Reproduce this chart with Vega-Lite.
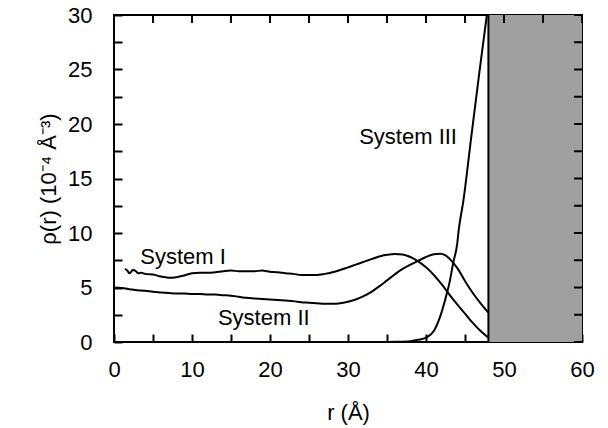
{
  "$schema": "https://vega.github.io/schema/vega-lite/v6.json",
  "width": 468,
  "height": 327,
  "autosize": "none",
  "padding": {"left": 114, "top": 15, "right": 26, "bottom": 86},
  "background": "white",
  "config": {
    "font": "Liberation Sans",
    "view": {"stroke": "black", "strokeWidth": 2},
    "axis": {
      "grid": false,
      "domain": false,
      "zindex": 1,
      "offset": -8,
      "labelFlush": false,
      "tickColor": "black",
      "tickWidth": 2,
      "tickSize": 8,
      "labelColor": "black",
      "labelFontSize": 22,
      "labelFont": "Liberation Sans",
      "titleFont": "Liberation Sans",
      "titleFontSize": 22,
      "titleFontWeight": "normal",
      "titleColor": "black"
    }
  },
  "datasets": {
    "curves": [
      {"series": "I", "r": 1.4, "v": 6.7}, {"series": "I", "r": 1.7, "v": 6.55}, {"series": "I", "r": 2.0, "v": 6.3}, {"series": "I", "r": 2.4, "v": 6.6}, {"series": "I", "r": 2.8, "v": 6.5}, {"series": "I", "r": 3.1, "v": 6.3}, {"series": "I", "r": 3.5, "v": 6.35}, {"series": "I", "r": 4, "v": 6.25}, {"series": "I", "r": 5, "v": 6.2}, {"series": "I", "r": 6, "v": 6.0}, {"series": "I", "r": 7, "v": 5.9}, {"series": "I", "r": 8, "v": 5.95}, {"series": "I", "r": 9, "v": 6.1}, {"series": "I", "r": 10, "v": 6.3}, {"series": "I", "r": 11, "v": 6.35}, {"series": "I", "r": 12, "v": 6.35}, {"series": "I", "r": 13, "v": 6.4}, {"series": "I", "r": 14, "v": 6.5}, {"series": "I", "r": 15, "v": 6.55}, {"series": "I", "r": 16, "v": 6.5}, {"series": "I", "r": 17, "v": 6.5}, {"series": "I", "r": 18, "v": 6.5}, {"series": "I", "r": 19, "v": 6.55}, {"series": "I", "r": 20, "v": 6.45}, {"series": "I", "r": 21, "v": 6.4}, {"series": "I", "r": 22, "v": 6.3}, {"series": "I", "r": 23, "v": 6.25}, {"series": "I", "r": 24, "v": 6.15}, {"series": "I", "r": 25, "v": 6.15}, {"series": "I", "r": 26, "v": 6.15}, {"series": "I", "r": 27, "v": 6.25}, {"series": "I", "r": 28, "v": 6.4}, {"series": "I", "r": 29, "v": 6.6}, {"series": "I", "r": 30, "v": 6.85}, {"series": "I", "r": 31, "v": 7.1}, {"series": "I", "r": 32, "v": 7.35}, {"series": "I", "r": 33, "v": 7.6}, {"series": "I", "r": 34, "v": 7.85}, {"series": "I", "r": 35, "v": 8.0}, {"series": "I", "r": 36, "v": 8.08}, {"series": "I", "r": 37, "v": 8.02}, {"series": "I", "r": 38, "v": 7.8}, {"series": "I", "r": 39, "v": 7.4}, {"series": "I", "r": 40, "v": 6.85}, {"series": "I", "r": 41, "v": 6.15}, {"series": "I", "r": 42, "v": 5.3}, {"series": "I", "r": 43, "v": 4.35}, {"series": "I", "r": 44, "v": 3.45}, {"series": "I", "r": 45, "v": 2.6}, {"series": "I", "r": 46, "v": 1.75}, {"series": "I", "r": 47, "v": 1.0}, {"series": "I", "r": 48, "v": 0.4},
      {"series": "II", "r": 0, "v": 5.0}, {"series": "II", "r": 1, "v": 4.95}, {"series": "II", "r": 2, "v": 4.85}, {"series": "II", "r": 3, "v": 4.75}, {"series": "II", "r": 4, "v": 4.7}, {"series": "II", "r": 5, "v": 4.6}, {"series": "II", "r": 6, "v": 4.55}, {"series": "II", "r": 7, "v": 4.5}, {"series": "II", "r": 8, "v": 4.45}, {"series": "II", "r": 9, "v": 4.45}, {"series": "II", "r": 10, "v": 4.4}, {"series": "II", "r": 11, "v": 4.4}, {"series": "II", "r": 12, "v": 4.35}, {"series": "II", "r": 13, "v": 4.35}, {"series": "II", "r": 14, "v": 4.3}, {"series": "II", "r": 15, "v": 4.25}, {"series": "II", "r": 16, "v": 4.15}, {"series": "II", "r": 17, "v": 4.05}, {"series": "II", "r": 18, "v": 4.0}, {"series": "II", "r": 19, "v": 3.95}, {"series": "II", "r": 20, "v": 3.9}, {"series": "II", "r": 21, "v": 3.85}, {"series": "II", "r": 22, "v": 3.8}, {"series": "II", "r": 23, "v": 3.75}, {"series": "II", "r": 24, "v": 3.65}, {"series": "II", "r": 25, "v": 3.6}, {"series": "II", "r": 26, "v": 3.55}, {"series": "II", "r": 27, "v": 3.5}, {"series": "II", "r": 28, "v": 3.5}, {"series": "II", "r": 29, "v": 3.55}, {"series": "II", "r": 30, "v": 3.7}, {"series": "II", "r": 31, "v": 3.9}, {"series": "II", "r": 32, "v": 4.2}, {"series": "II", "r": 33, "v": 4.6}, {"series": "II", "r": 34, "v": 5.1}, {"series": "II", "r": 35, "v": 5.65}, {"series": "II", "r": 36, "v": 6.2}, {"series": "II", "r": 37, "v": 6.7}, {"series": "II", "r": 38, "v": 7.1}, {"series": "II", "r": 39, "v": 7.45}, {"series": "II", "r": 40, "v": 7.8}, {"series": "II", "r": 41, "v": 8.05}, {"series": "II", "r": 41.8, "v": 8.1}, {"series": "II", "r": 42.5, "v": 7.95}, {"series": "II", "r": 43, "v": 7.65}, {"series": "II", "r": 44, "v": 6.8}, {"series": "II", "r": 45, "v": 5.6}, {"series": "II", "r": 46, "v": 4.5}, {"series": "II", "r": 47, "v": 3.55}, {"series": "II", "r": 48, "v": 2.7},
      {"series": "III", "r": 34, "v": 0}, {"series": "III", "r": 36, "v": 0.02}, {"series": "III", "r": 38, "v": 0.08}, {"series": "III", "r": 39, "v": 0.2}, {"series": "III", "r": 40, "v": 0.4}, {"series": "III", "r": 41, "v": 1.0}, {"series": "III", "r": 41.8, "v": 2.3}, {"series": "III", "r": 42.5, "v": 4.0}, {"series": "III", "r": 43, "v": 5.4}, {"series": "III", "r": 43.5, "v": 7.3}, {"series": "III", "r": 44, "v": 9.0}, {"series": "III", "r": 44.2, "v": 10.3}, {"series": "III", "r": 44.8, "v": 13.0}, {"series": "III", "r": 45.8, "v": 18.8}, {"series": "III", "r": 46.8, "v": 24.5}, {"series": "III", "r": 47.8, "v": 30}
    ],
    "labels": [
      {"text": "System I", "r": 8.85, "v": 7.8},
      {"text": "System II", "r": 19.2, "v": 2.2},
      {"text": "System III", "r": 37.7, "v": 18.8}
    ],
    "region": [{"r": 48, "r2": 60, "v": 0, "v2": 30}],
    "xticks": [{"r": 0, "v": 30}, {"r": 5, "v": 30}, {"r": 10, "v": 30}, {"r": 15, "v": 30}, {"r": 20, "v": 30}, {"r": 25, "v": 30}, {"r": 30, "v": 30}, {"r": 35, "v": 30}, {"r": 40, "v": 30}, {"r": 45, "v": 30}, {"r": 50, "v": 30}, {"r": 55, "v": 30}, {"r": 60, "v": 30}],
    "yticks": [{"r": 60, "v": 0}, {"r": 60, "v": 2.5}, {"r": 60, "v": 5}, {"r": 60, "v": 7.5}, {"r": 60, "v": 10}, {"r": 60, "v": 12.5}, {"r": 60, "v": 15}, {"r": 60, "v": 17.5}, {"r": 60, "v": 20}, {"r": 60, "v": 22.5}, {"r": 60, "v": 25}, {"r": 60, "v": 27.5}, {"r": 60, "v": 30}]
  },
  "resolve": {"axis": {"x": "independent", "y": "independent"}},
  "layer": [
    {
      "data": {"name": "region"},
      "mark": {"type": "rect", "fill": "#a0a0a0", "stroke": null},
      "encoding": {
        "x": {"field": "r", "type": "quantitative", "scale": {"domain": [0, 60], "nice": false}, "axis": null},
        "x2": {"field": "r2"},
        "y": {"field": "v", "type": "quantitative", "scale": {"domain": [0, 30], "nice": false}, "axis": null},
        "y2": {"field": "v2"}
      }
    },
    {
      "data": {"name": "region"},
      "mark": {"type": "rule", "color": "black", "strokeWidth": 2},
      "encoding": {
        "x": {"field": "r", "type": "quantitative", "axis": null},
        "y": {"field": "v", "type": "quantitative", "axis": null},
        "y2": {"field": "v2"}
      }
    },
    {
      "data": {"name": "xticks"},
      "mark": {"type": "tick", "orient": "vertical", "color": "black", "size": 16, "thickness": 2, "opacity": 1, "clip": true},
      "encoding": {
        "x": {"field": "r", "type": "quantitative", "axis": null},
        "y": {"field": "v", "type": "quantitative", "axis": null}
      }
    },
    {
      "data": {"name": "yticks"},
      "mark": {"type": "tick", "orient": "horizontal", "color": "black", "size": 16, "thickness": 2, "opacity": 1, "clip": true},
      "encoding": {
        "x": {"field": "r", "type": "quantitative", "axis": null},
        "y": {"field": "v", "type": "quantitative", "axis": null}
      }
    },
    {
      "data": {"name": "curves"},
      "mark": {"type": "line", "color": "black", "strokeWidth": 2, "interpolate": "monotone", "clip": true},
      "encoding": {
        "x": {"field": "r", "type": "quantitative",
          "axis": {"orient": "bottom", "values": [0, 5, 10, 15, 20, 25, 30, 35, 40, 45, 50, 55, 60],
            "labelExpr": "datum.value % 10 === 0 ? datum.label : ''", "labelPadding": 17, "title": "r (Å)", "titlePadding": 22}},
        "y": {"field": "v", "type": "quantitative",
          "axis": {"orient": "left", "values": [0, 2.5, 5, 7.5, 10, 12.5, 15, 17.5, 20, 22.5, 25, 27.5, 30],
            "labelExpr": "datum.value % 5 === 0 ? datum.label : ''", "labelPadding": 22, "title": "ρ(r) (10⁻⁴ Å⁻³)", "titlePadding": 7}},
        "detail": {"field": "series"}
      }
    },
    {
      "data": {"name": "labels"},
      "mark": {"type": "text", "fontSize": 22, "font": "Liberation Sans", "color": "black"},
      "encoding": {
        "x": {"field": "r", "type": "quantitative", "axis": null},
        "y": {"field": "v", "type": "quantitative", "axis": null},
        "text": {"field": "text"}
      }
    }
  ]
}
